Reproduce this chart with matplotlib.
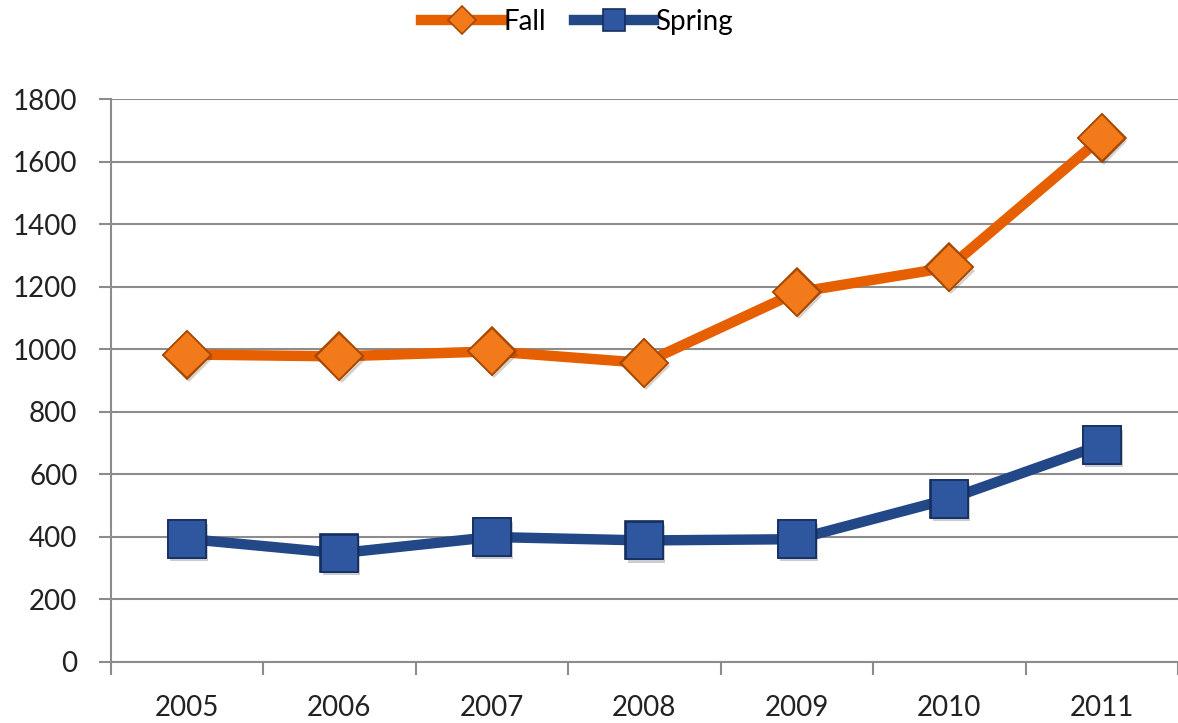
import matplotlib.pyplot as plt
import matplotlib.patheffects as pe
from matplotlib.ticker import FixedLocator

# Datos
years = ['2005', '2006', '2007', '2008', '2009', '2010', '2011']
fall = [983, 977, 993, 956, 1182, 1262, 1677]
spring = [393, 347, 399, 388, 392, 521, 694]
y_ticks = [0, 200, 400, 600, 800, 1000, 1200, 1400, 1600, 1800]

orange = '#E65F00'
blue = '#234887'
grid_gray = '#8C8C8C'

plt.rcParams['font.family'] = ['Lato', 'DejaVu Sans']

fig = plt.figure(figsize=(11.78, 7.23), dpi=100)
ax = fig.add_axes([0.094, 0.0848, 0.906, 0.778])

x = list(range(len(years)))
sombra = [pe.SimplePatchShadow(offset=(1.5, -2.5), alpha=0.22), pe.Normal()]

ax.plot(x, fall, color=orange, lw=7.5, marker='D', markersize=24,
        markerfacecolor='#F27A1A', markeredgecolor='#A84800', markeredgewidth=1.2,
        label='Fall', zorder=3)
ax.plot(x, spring, color=blue, lw=7.5, marker='s', markersize=27,
        markerfacecolor='#2E57A0', markeredgecolor='#152E5E', markeredgewidth=1.2,
        label='Spring', zorder=3)

# marcadores otra vez, con sombra
ax.plot(x, fall, ls='none', marker='D', markersize=24, markerfacecolor='#F27A1A',
        markeredgecolor='#A84800', markeredgewidth=1.2, path_effects=sombra, zorder=4)
ax.plot(x, spring, ls='none', marker='s', markersize=27, markerfacecolor='#2E57A0',
        markeredgecolor='#152E5E', markeredgewidth=1.2, path_effects=sombra, zorder=4)

ax.set_xlim(-0.5, len(years) - 0.5)
ax.set_ylim(0, 1800)
ax.set_yticks(y_ticks)
ax.set_xticks(x)
ax.set_xticklabels(years)
ax.xaxis.set_minor_locator(FixedLocator([i - 0.5 for i in range(len(years) + 1)]))

ax.tick_params(axis='x', which='major', length=0, pad=24, labelsize=20, labelcolor='#222222')
ax.tick_params(axis='x', which='minor', length=9, width=1.5, color=grid_gray, direction='out')
ax.tick_params(axis='y', length=9, width=1.5, color=grid_gray, pad=15, labelsize=20,
               labelcolor='#222222')

ax.grid(True, axis='y', color=grid_gray, lw=1.5)
ax.set_axisbelow(True)
for side in ['top', 'right']:
    ax.spines[side].set_visible(False)
for side in ['left', 'bottom']:
    ax.spines[side].set_color(grid_gray)
    ax.spines[side].set_linewidth(1.5)

fig.legend(loc='center', bbox_to_anchor=(0.49, 0.97), ncol=2, frameon=False,
           fontsize=20, markerscale=0.6, handlelength=2.9, handletextpad=0.05,
           columnspacing=1.0)

fig.savefig('out.png', dpi=100)
